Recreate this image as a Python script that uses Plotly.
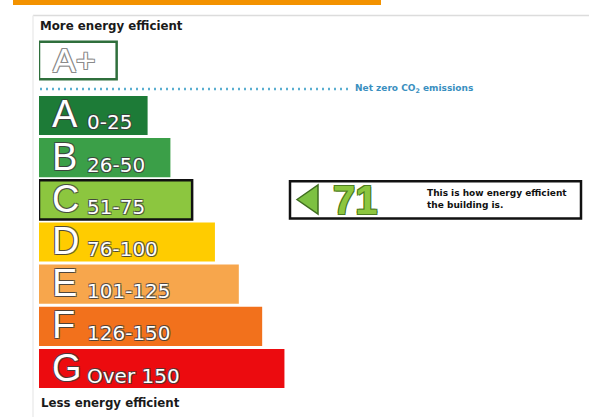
import plotly.graph_objects as go

# ---- data ----
bands = ["A", "B", "C", "D", "E", "F", "G"]
band_ranges = ["0-25", "26-50", "51-75", "76-100", "101-125", "126-150", "Over 150"]
bar_length = [20.0, 24.2, 28.2, 32.4, 36.8, 41.1, 45.2]
band_colors = ["#1d7b37", "#3b9f48", "#8cc63f", "#ffcc00", "#f7a64c", "#f2711c", "#ec0b0f"]
aplus_label = ["A+"]
aplus_length = [14.3]
rating = 71
rating_band = "C"
rating_color = "#8cc63f"

W, H = 589, 417
ML, MR = 39, 7
PW = W - ML - MR


def fx(px):
    return (px - ML) / PW


def fy(py):
    return (H - py) / H


FONT = "Liberation Sans, Arial, sans-serif"
WIDE = "DejaVu Sans, Verdana, sans-serif"
OUTLINE = "-1px -1px 0 rgba(60,60,60,0.7), 1px -1px 0 rgba(60,60,60,0.7), -1px 1px 0 rgba(60,60,60,0.7), 1px 1px 0 rgba(60,60,60,0.7)"

sel = bands.index(rating_band)

fig = go.Figure()
fig.add_trace(go.Bar(
    orientation="h", y=bands, x=bar_length, width=0.93,
    marker=dict(color=band_colors,
                line=dict(width=[2.5 if i == sel else 0 for i in range(len(bands))],
                          color="#111111")),
    hoverinfo="skip", showlegend=False, xaxis="x", yaxis="y",
))
fig.add_trace(go.Bar(
    orientation="h", y=aplus_label, x=aplus_length, width=0.92,
    marker=dict(color="white", line=dict(width=2.5, color="#2f6f3c")),
    hoverinfo="skip", showlegend=False, xaxis="x", yaxis="y2",
))

ann = []
for b, r in zip(bands, band_ranges):
    ann.append(dict(x=0, y=b, xref="x", yref="y", text=b, showarrow=False,
                    xanchor="left", yanchor="middle", xshift=11, yshift=1,
                    font=dict(family=FONT, size=38, color="white", shadow=OUTLINE)))
    ann.append(dict(x=0, y=b, xref="x", yref="y", text=r, showarrow=False,
                    xanchor="left", yanchor="middle", xshift=46, yshift=-7,
                    font=dict(family=WIDE, size=20, color="white", shadow=OUTLINE)))

ann.append(dict(x=0, y=aplus_label[0], xref="x", yref="y2", text=aplus_label[0], showarrow=False,
                xanchor="left", yanchor="middle", xshift=12, yshift=0,
                font=dict(family=FONT, size=34, color="white",
                          shadow="-1px -1px 0 #8a8a8a, 1px -1px 0 #8a8a8a, -1px 1px 0 #8a8a8a, 1px 1px 0 #8a8a8a")))

ann.append(dict(x=fx(37.5), y=fy(26), xref="paper", yref="paper", text="<b>More energy efficient</b>",
                showarrow=False, xanchor="left", yanchor="middle",
                font=dict(family=WIDE, size=11.8, color="#1a1a1a")))
ann.append(dict(x=fx(38.5), y=fy(403), xref="paper", yref="paper", text="<b>Less energy efficient</b>",
                showarrow=False, xanchor="left", yanchor="middle",
                font=dict(family=WIDE, size=11.8, color="#1a1a1a")))
ann.append(dict(x=fx(353), y=fy(88), xref="paper", yref="paper",
                text="<b>Net zero CO<sub>2</sub> emissions</b>",
                showarrow=False, xanchor="left", yanchor="middle",
                font=dict(family=WIDE, size=9, color="#3a8fc0")))
ann.append(dict(x=fx(331), y=fy(199.5), xref="paper", yref="paper", text=f"<b>{rating}</b>",
                showarrow=False, xanchor="left", yanchor="middle",
                font=dict(family=FONT, size=40, color=rating_color,
                          shadow="-1px -1px 0 #4c7a22, 1px -1px 0 #4c7a22, -1px 1px 0 #4c7a22, 1px 1px 0 #4c7a22")))
ann.append(dict(x=fx(424.5), y=fy(198.5), xref="paper", yref="paper",
                text="<b>This is how energy efficient<br>the building is.</b>",
                showarrow=False, xanchor="left", yanchor="middle", align="left",
                font=dict(family=WIDE, size=9, color="#111111")))

shapes = [
    # top orange strip
    dict(type="rect", xref="paper", yref="paper", x0=fx(13), x1=fx(381), y0=fy(5), y1=fy(-2),
         fillcolor="#f39200", line=dict(width=0), layer="above"),
    # faint frame
    dict(type="line", xref="paper", yref="paper", x0=fx(33), x1=fx(592), y0=fy(15.5), y1=fy(15.5),
         line=dict(color="#dcdcdc", width=1.5)),
    dict(type="line", xref="paper", yref="paper", x0=fx(33), x1=fx(33), y0=fy(15.5), y1=fy(420),
         line=dict(color="#ececec", width=1.5)),
    # net zero dotted line
    dict(type="line", xref="paper", yref="paper", x0=fx(40), x1=fx(349), y0=fy(89), y1=fy(89),
         line=dict(color="#5aaed0", width=2.5, dash="2px,4px")),
    # indicator box on the rating band row
    dict(type="rect", xref="paper", yref="y", x0=fx(290), x1=fx(581),
         y0=sel - 0.44, y1=sel + 0.44,
         fillcolor="white", line=dict(color="#111111", width=2.5)),
    # arrow
    dict(type="path", xref="paper", yref="paper",
         path=f"M {fx(297)},{fy(199.5)} L {fx(318)},{fy(185)} L {fx(318)},{fy(214)} Z",
         fillcolor="#7dc142", line=dict(color="#3f6d1f", width=1.5)),
]

fig.update_layout(
    width=W, height=H,
    margin=dict(l=ML, r=MR, t=0, b=0),
    paper_bgcolor="white", plot_bgcolor="white",
    showlegend=False, barmode="overlay",
    xaxis=dict(range=[0, 100], visible=False, fixedrange=True),
    yaxis=dict(categoryorder="array", categoryarray=bands, range=[6.5, -0.5],
               domain=[fy(389.6), fy(94.4)], visible=False, fixedrange=True),
    yaxis2=dict(range=[-0.5, 0.5], domain=[fy(81), fy(40)], visible=False,
                fixedrange=True, anchor="x"),
    annotations=ann,
    shapes=shapes,
)

fig.write_html(
    "out.html",
    config={"displayModeBar": False},
    post_script="document.body.style.margin='0';document.body.style.overflow='hidden';",
)
